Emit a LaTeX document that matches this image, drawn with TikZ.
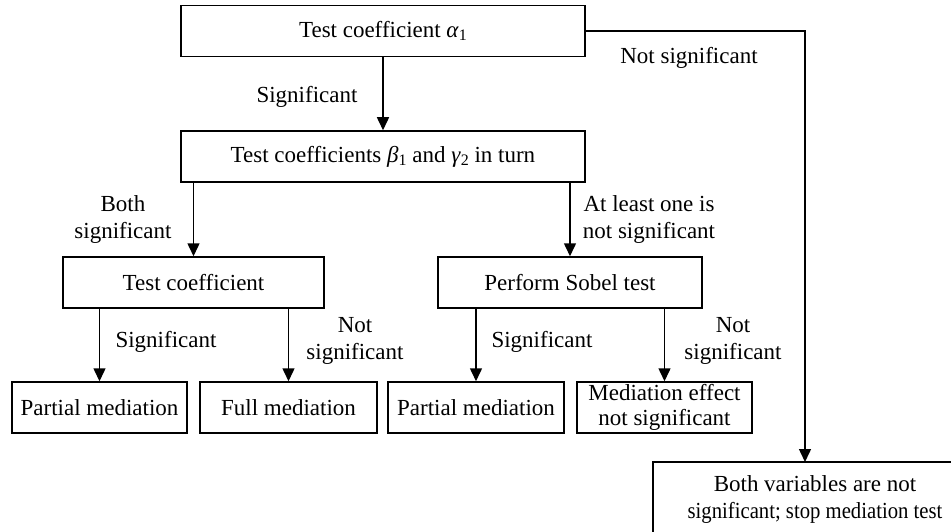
\documentclass[tikz,border=0pt]{standalone}
\usepackage{fontspec}
\setmainfont{Liberation Serif}
\usetikzlibrary{arrows.meta}
\begin{document}
\begin{tikzpicture}[x=1pt,y=-1pt,
  every node/.style={font=\fontsize{23}{27}\selectfont, inner sep=0pt},
  box/.style={draw, line width=1.5pt, rectangle, minimum height=51pt},
  lbl/.style={align=center},
  arr/.style={line width=1.5pt, -{Triangle[length=13pt,width=12pt]}}]
\useasboundingbox[fill=white] (0,0) rectangle (951,532);
\newcommand{\subn}[1]{\raisebox{-0.35ex}{\fontsize{16}{16}\selectfont #1}}
\node[box, minimum width=404pt] (top) at (383,31) {Test coefficient \textit{α}\subn{1}};
\node[box, minimum width=404pt] (second) at (383,156.5) {Test coefficients \textit{β}\subn{1} and \textit{γ}\subn{2} in turn};
\node[box, minimum width=261pt] (tc) at (193.5,282.5) {Test coefficient};
\node[box, minimum width=264pt] (sobel) at (570,282.5) {Perform Sobel test};
\node[box, minimum width=175pt] (pm1) at (99.5,407.5) {Partial mediation};
\node[box, minimum width=177pt] (fm) at (288.5,407.5) {Full mediation};
\node[box, minimum width=176pt] (pm2) at (476,407.5) {Partial mediation};
\node[box, minimum width=175pt, lbl, font=\fontsize{23}{24.5}\selectfont] (me) at (664.5,407.5) {Mediation effect\\not significant};
\node[box, minimum width=324pt, minimum height=75pt, lbl] (stop) at (815,499.5) {Both variables are not\\\scalebox{0.9}[1]{significant; stop mediation test}};
\coordinate (corner) at (805,31);
\coordinate (stoptop) at (805,462);
% connectors
\draw[arr] (top.south) -- (second.north);
\draw[arr] (tc.north |- second.south) -- (tc.north);
\draw[arr] (sobel.north |- second.south) -- (sobel.north);
\draw[arr] (pm1.north |- tc.south) -- (pm1.north);
\draw[arr] (fm.north |- tc.south) -- (fm.north);
\draw[arr] (pm2.north |- sobel.south) -- (pm2.north);
\draw[arr] (me.north |- sobel.south) -- (me.north);
\draw[arr] (top.east) -- (corner) -- (stoptop);
% labels
\node (l1) at (307,97) {Significant};
\node (l2) at (689,58) {Not significant};
\node[lbl] (l3) at (123,219.5) {Both\\significant};
\node[lbl] (l4) at (649,219.5) {At least one is\\not significant};
\node (l5) at (166,342) {Significant};
\node[lbl] (l6) at (355,341) {Not\\significant};
\node (l7) at (542,342) {Significant};
\node[lbl] (l8) at (733,341) {Not\\significant};
\end{tikzpicture}
\end{document}
